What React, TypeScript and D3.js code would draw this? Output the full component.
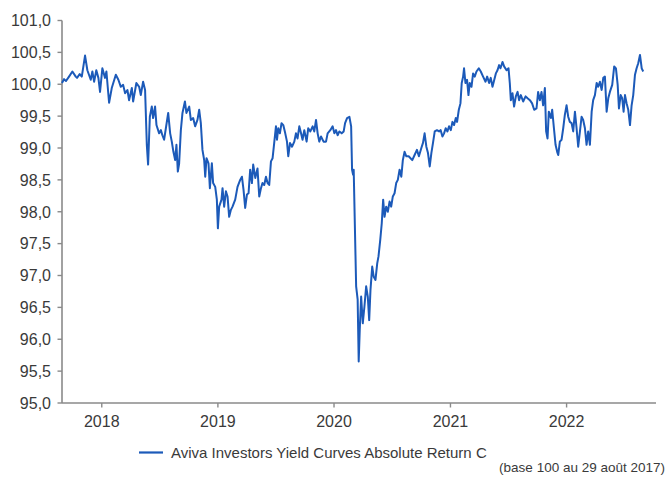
import * as d3 from "d3";

// decimal year of each observation (base 100 on 29 Aug 2017)
const yearFrac = [
  2017.657, 2017.675, 2017.692, 2017.718, 2017.747, 2017.776, 2017.787, 2017.81, 2017.828, 2017.856,
  2017.876, 2017.905, 2017.919, 2017.934, 2017.953, 2017.971, 2017.985, 2018.005, 2018.028, 2018.04,
  2018.063, 2018.086, 2018.121, 2018.143, 2018.164, 2018.184, 2018.201, 2018.221, 2018.235, 2018.259,
  2018.27, 2018.298, 2018.322, 2018.336, 2018.356, 2018.373, 2018.388, 2018.399, 2018.414, 2018.431,
  2018.442, 2018.459, 2018.471, 2018.494, 2018.509, 2018.522, 2018.537, 2018.552, 2018.572, 2018.589,
  2018.603, 2018.617, 2018.632, 2018.643, 2018.655, 2018.666, 2018.681, 2018.695, 2018.716, 2018.729,
  2018.753, 2018.767, 2018.787, 2018.804, 2018.824, 2018.839, 2018.853, 2018.867, 2018.882, 2018.891,
  2018.902, 2018.919, 2018.931, 2018.948, 2018.959, 2018.977, 2018.991, 2019.0, 2019.011, 2019.031,
  2019.04, 2019.054, 2019.069, 2019.083, 2019.097, 2019.112, 2019.126, 2019.149, 2019.169, 2019.192,
  2019.207, 2019.221, 2019.235, 2019.25, 2019.264, 2019.278, 2019.293, 2019.304, 2019.322, 2019.341,
  2019.356, 2019.371, 2019.384, 2019.399, 2019.414, 2019.428, 2019.442, 2019.457, 2019.471, 2019.485,
  2019.5, 2019.509, 2019.52, 2019.534, 2019.548, 2019.563, 2019.58, 2019.595, 2019.606, 2019.621,
  2019.638, 2019.658, 2019.672, 2019.686, 2019.701, 2019.716, 2019.729, 2019.744, 2019.764, 2019.778,
  2019.796, 2019.816, 2019.83, 2019.845, 2019.859, 2019.873, 2019.888, 2019.91, 2019.931, 2019.945,
  2019.968, 2019.988, 2020.003, 2020.017, 2020.031, 2020.046, 2020.066, 2020.083, 2020.095, 2020.112,
  2020.132, 2020.147, 2020.155, 2020.164, 2020.169, 2020.19, 2020.203, 2020.212, 2020.221, 2020.233,
  2020.247, 2020.261, 2020.276, 2020.29, 2020.302, 2020.313, 2020.328, 2020.341, 2020.356, 2020.371,
  2020.382, 2020.397, 2020.41, 2020.422, 2020.434, 2020.448, 2020.462, 2020.477, 2020.491, 2020.505,
  2020.52, 2020.534, 2020.548, 2020.563, 2020.578, 2020.591, 2020.606, 2020.621, 2020.641, 2020.672,
  2020.692, 2020.712, 2020.729, 2020.75, 2020.764, 2020.778, 2020.793, 2020.807, 2020.822, 2020.836,
  2020.85, 2020.865, 2020.884, 2020.902, 2020.916, 2020.931, 2020.945, 2020.959, 2020.974, 2020.988,
  2021.003, 2021.017, 2021.031, 2021.046, 2021.057, 2021.072, 2021.086, 2021.097, 2021.109, 2021.117,
  2021.129, 2021.143, 2021.155, 2021.166, 2021.181, 2021.195, 2021.209, 2021.224, 2021.244, 2021.261,
  2021.281, 2021.302, 2021.316, 2021.333, 2021.347, 2021.362, 2021.373, 2021.391, 2021.405, 2021.419,
  2021.431, 2021.448, 2021.462, 2021.483, 2021.5, 2021.511, 2021.52, 2021.534, 2021.548, 2021.563,
  2021.578, 2021.591, 2021.606, 2021.626, 2021.647, 2021.664, 2021.684, 2021.703, 2021.721, 2021.741,
  2021.755, 2021.77, 2021.784, 2021.798, 2021.813, 2021.824, 2021.836, 2021.847, 2021.865, 2021.876,
  2021.891, 2021.905, 2021.919, 2021.928, 2021.942, 2021.957, 2021.971, 2021.985, 2022.0, 2022.014,
  2022.028, 2022.043, 2022.057, 2022.072, 2022.086, 2022.1, 2022.115, 2022.129, 2022.143, 2022.158,
  2022.172, 2022.186, 2022.201, 2022.216, 2022.229, 2022.244, 2022.259, 2022.272, 2022.287, 2022.302,
  2022.316, 2022.33, 2022.345, 2022.359, 2022.373, 2022.393, 2022.41, 2022.425, 2022.44, 2022.451,
  2022.466, 2022.479, 2022.491, 2022.503, 2022.517, 2022.531, 2022.546, 2022.56, 2022.574, 2022.589,
  2022.603, 2022.617, 2022.632, 2022.647, 2022.66,
];

const navValues = [
  100.02, 100.08, 100.05, 100.12, 100.2, 100.12, 100.1, 100.16, 100.12, 100.45,
  100.22, 100.07, 100.2, 100.04, 100.22, 100.1, 99.88, 100.25, 100.1, 100.2,
  99.71, 99.94, 100.15, 100.07, 99.96, 99.99, 99.86, 99.91, 99.75, 99.94,
  99.73, 100.02, 99.96, 99.83, 100.04, 99.91, 99.05, 98.74, 99.49, 99.65,
  99.47, 99.65, 99.36, 99.23, 99.28, 99.2, 99.13, 99.31, 99.55, 99.23,
  99.1, 98.94, 98.81, 99.05, 98.63, 98.75, 99.28, 99.55, 99.73, 99.55,
  99.65, 99.44, 99.47, 99.34, 99.44, 99.6, 99.39, 98.97, 98.81, 98.55,
  98.84, 98.76, 98.37, 98.76, 98.45, 98.39, 98.19, 97.74, 98.08, 98.19,
  98.37, 98.08, 98.32, 98.24, 97.92, 98.03, 98.08, 98.19, 98.39, 98.5,
  98.55, 98.34, 98.06, 98.27, 98.29, 98.66, 98.45, 98.74, 98.53, 98.68,
  98.24, 98.37, 98.45, 98.42, 98.55, 98.45, 98.42, 98.79, 98.84, 99.08,
  99.34, 99.13, 99.31, 99.23, 99.39, 99.36, 99.23, 99.1, 98.87, 99.08,
  99.02, 99.1, 99.23, 99.15, 99.34, 99.23, 99.13, 99.28, 99.1, 99.31,
  99.26, 99.34, 99.26, 99.44, 99.23, 99.1, 99.18, 99.1, 99.1, 99.23,
  99.28, 99.34, 99.23, 99.28, 99.2, 99.26, 99.23, 99.26, 99.39, 99.47,
  99.49, 99.34, 98.66, 98.58, 98.66, 96.83, 96.62, 95.65, 96.15, 96.67,
  96.25, 96.51, 96.83, 96.67, 96.3, 96.77, 97.14, 96.98, 96.93, 97.19,
  97.3, 97.56, 97.82, 98.19, 97.92, 98.08, 98.0, 98.16, 98.08, 98.24,
  98.29, 98.45, 98.5, 98.66, 98.55, 98.81, 98.94, 98.87, 98.87, 98.81,
  98.89, 98.97, 98.87, 99.0, 99.08, 99.23, 99.02, 98.92, 98.71, 98.92,
  99.08, 99.26, 99.28, 99.26, 99.28, 99.18, 99.23, 99.31, 99.26, 99.34,
  99.28, 99.41, 99.36, 99.47, 99.41, 99.6, 99.7, 100.02, 100.12, 100.25,
  100.02, 100.07, 99.83, 100.02, 99.96, 100.17, 100.12, 100.2, 100.25, 100.2,
  100.12, 100.04, 100.12, 100.02, 100.1, 99.96, 100.04, 100.17, 100.22, 100.3,
  100.25, 100.35, 100.28, 100.22, 100.25, 100.02, 99.75, 99.86, 99.65, 99.81,
  99.88, 99.75, 99.83, 99.73, 99.81, 99.78, 99.75, 99.7, 99.6, 99.62,
  99.88, 99.75, 99.88, 99.67, 99.94, 99.26, 99.15, 99.57, 99.47, 99.6,
  99.31, 99.05, 98.94, 98.89, 99.1, 99.13, 99.31, 99.52, 99.67, 99.49,
  99.41, 99.39, 99.26, 99.57, 99.31, 99.02, 99.26, 99.49, 99.44, 99.31,
  99.05, 99.26, 99.05, 99.57, 99.75, 99.83, 100.02, 99.96, 100.04, 99.91,
  100.1, 100.12, 99.57, 99.78, 99.88, 99.99, 100.28, 100.25, 99.99, 99.62,
  99.83, 99.78, 99.57, 99.83, 99.7, 99.6, 99.36, 99.67, 99.83, 100.15,
  100.25, 100.33, 100.46, 100.25, 100.2,
];

const yTicks = [95, 95.5, 96, 96.5, 97, 97.5, 98, 98.5, 99, 99.5, 100, 100.5, 101];
const xYears = [2018, 2019, 2020, 2021, 2022];
const seriesName = "Aviva Investors Yield Curves Absolute Return C";
const note = "(base 100 au 29 août 2017)";

function toDate(t: number) {
  const y = Math.floor(t);
  const start = new Date(y, 0, 1).getTime();
  const end = new Date(y + 1, 0, 1).getTime();
  return new Date(start + (t - y) * (end - start));
}

const W = 665;
const H = 482;
const left = 62;
const right = 656;
const top = 20.5;
const bottom = 403;
const axisColor = "#8a8a8a";
const textColor = "#3a3a3a";
const lineColor = "#1c5ab9";
const font = "'Liberation Sans', Arial, sans-serif";

export default function App() {
  const x = d3.scaleTime()
    .domain([new Date(2017, 7, 29), toDate(2022.77)])
    .range([left, right]);
  const y = d3.scaleLinear().domain([95, 101]).range([bottom, top]);

  const pts = yearFrac.map((t, i) => ({ d: toDate(t), v: navValues[i] }));
  const line = d3.line<{ d: Date; v: number }>()
    .x(p => x(p.d))
    .y(p => y(p.v));

  const fmt = (v: number) => d3.format(".1f")(v).replace(".", ",");

  return (
    <svg width={W} height={H} style={{ position: "absolute", left: 0, top: 0, background: "#fff" }}
      fontFamily={font}>
      {/* y axis */}
      <line x1={left} x2={left} y1={top} y2={bottom} stroke={axisColor} strokeWidth={1.6} />
      {yTicks.map(t => (
        <g key={t}>
          <line x1={left - 4.5} x2={left} y1={y(t)} y2={y(t)} stroke={axisColor} strokeWidth={1.4} />
          <text x={51} y={y(t)} dy="0.36em" textAnchor="end" fontSize={16} fill={textColor}>{fmt(t)}</text>
        </g>
      ))}
      {/* x axis */}
      <line x1={left} x2={right} y1={bottom} y2={bottom} stroke={axisColor} strokeWidth={1.6} />
      {xYears.map(yr => {
        const px = x(new Date(yr, 0, 1));
        return (
          <g key={yr}>
            <line x1={px} x2={px} y1={bottom} y2={bottom + 4.5} stroke={axisColor} strokeWidth={1.4} />
            <text x={px} y={427} textAnchor="middle" fontSize={16} fill={textColor}>{yr}</text>
          </g>
        );
      })}
      <path d={line(pts) ?? ""} fill="none" stroke={lineColor} strokeWidth={2} strokeLinejoin="round" />
      {/* legend */}
      <line x1={139} x2={163} y1={452.5} y2={452.5} stroke={lineColor} strokeWidth={2.2} />
      <text x={171} y={457.5} fontSize={15} fill={textColor}>{seriesName}</text>
      <text x={665} y={472} textAnchor="end" fontSize={13.5} fill={textColor}>{note}</text>
    </svg>
  );
}
